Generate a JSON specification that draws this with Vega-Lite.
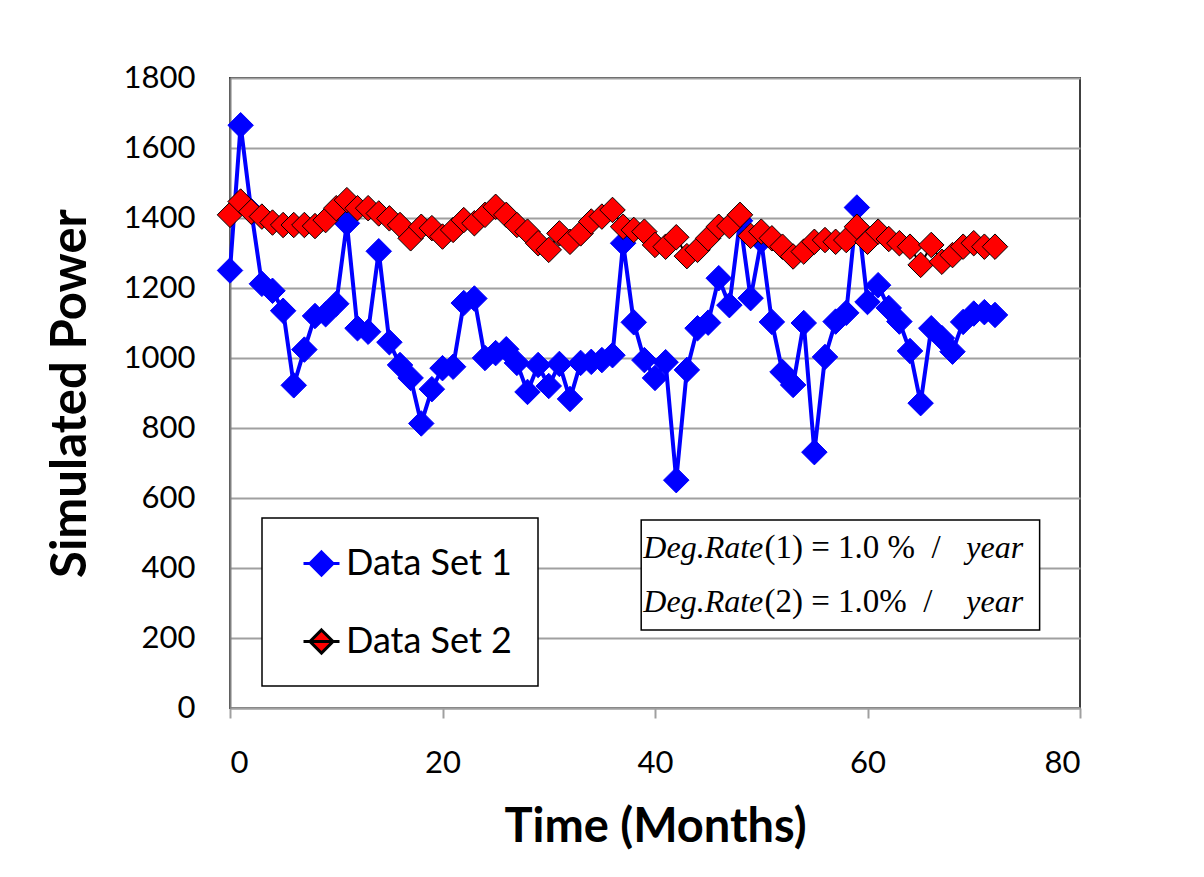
{
  "$schema": "https://vega.github.io/schema/vega-lite/v6.json",
  "width": 850,
  "height": 630,
  "autosize": {"type": "none"},
  "padding": {"left": 230, "top": 78, "right": 124, "bottom": 169},
  "background": "white",
  "config": {
    "view": {"stroke": "#404040", "strokeWidth": 2},
    "font": "Lato",
    "legend": {
      "orient": "none",
      "legendX": 32,
      "legendY": 440,
      "title": null,
      "labelFont": "Lato",
      "labelFontSize": 36,
      "labelColor": "black",
      "labelLimit": 500,
      "labelOffset": 5,
      "labelExpr": "datum.label + '\u00a0\u00a0'",
      "strokeColor": "black",
      "strokeWidth": 1.5,
      "fillColor": "white",
      "padding": 26,
      "symbolOffset": 14,
      "rowPadding": 40,
      "symbolSize": 1296,
      "symbolStrokeWidth": 3,
      "symbolType": "M-1,0L1,0M0,-0.64L0.64,0L0,0.64L-0.64,0Z"
    }
  },
  "datasets": {
    "power": [
      {"t":0,"p":1250,"s":"Data Set 1"},{"t":1,"p":1665,"s":"Data Set 1"},{"t":2,"p":1420,"s":"Data Set 1"},{"t":3,"p":1212,"s":"Data Set 1"},{"t":4,"p":1192,"s":"Data Set 1"},{"t":5,"p":1135,"s":"Data Set 1"},{"t":6,"p":922,"s":"Data Set 1"},{"t":7,"p":1024,"s":"Data Set 1"},{"t":8,"p":1120,"s":"Data Set 1"},{"t":9,"p":1125,"s":"Data Set 1"},
      {"t":10,"p":1155,"s":"Data Set 1"},{"t":11,"p":1385,"s":"Data Set 1"},{"t":12,"p":1085,"s":"Data Set 1"},{"t":13,"p":1075,"s":"Data Set 1"},{"t":14,"p":1305,"s":"Data Set 1"},{"t":15,"p":1045,"s":"Data Set 1"},{"t":16,"p":980,"s":"Data Set 1"},{"t":17,"p":943,"s":"Data Set 1"},{"t":18,"p":813,"s":"Data Set 1"},{"t":19,"p":911,"s":"Data Set 1"},
      {"t":20,"p":971,"s":"Data Set 1"},{"t":21,"p":975,"s":"Data Set 1"},{"t":22,"p":1157,"s":"Data Set 1"},{"t":23,"p":1170,"s":"Data Set 1"},{"t":24,"p":1000,"s":"Data Set 1"},{"t":25,"p":1014,"s":"Data Set 1"},{"t":26,"p":1025,"s":"Data Set 1"},{"t":27,"p":986,"s":"Data Set 1"},{"t":28,"p":903,"s":"Data Set 1"},{"t":29,"p":980,"s":"Data Set 1"},
      {"t":30,"p":920,"s":"Data Set 1"},{"t":31,"p":983,"s":"Data Set 1"},{"t":32,"p":883,"s":"Data Set 1"},{"t":33,"p":986,"s":"Data Set 1"},{"t":34,"p":989,"s":"Data Set 1"},{"t":35,"p":994,"s":"Data Set 1"},{"t":36,"p":1008,"s":"Data Set 1"},{"t":37,"p":1328,"s":"Data Set 1"},{"t":38,"p":1102,"s":"Data Set 1"},{"t":39,"p":994,"s":"Data Set 1"},
      {"t":40,"p":943,"s":"Data Set 1"},{"t":41,"p":988,"s":"Data Set 1"},{"t":42,"p":651,"s":"Data Set 1"},{"t":43,"p":966,"s":"Data Set 1"},{"t":44,"p":1085,"s":"Data Set 1"},{"t":45,"p":1101,"s":"Data Set 1"},{"t":46,"p":1228,"s":"Data Set 1"},{"t":47,"p":1151,"s":"Data Set 1"},{"t":48,"p":1392,"s":"Data Set 1"},{"t":49,"p":1171,"s":"Data Set 1"},
      {"t":50,"p":1335,"s":"Data Set 1"},{"t":51,"p":1103,"s":"Data Set 1"},{"t":52,"p":960,"s":"Data Set 1"},{"t":53,"p":923,"s":"Data Set 1"},{"t":54,"p":1100,"s":"Data Set 1"},{"t":55,"p":731,"s":"Data Set 1"},{"t":56,"p":1003,"s":"Data Set 1"},{"t":57,"p":1104,"s":"Data Set 1"},{"t":58,"p":1129,"s":"Data Set 1"},{"t":59,"p":1430,"s":"Data Set 1"},
      {"t":60,"p":1160,"s":"Data Set 1"},{"t":61,"p":1208,"s":"Data Set 1"},{"t":62,"p":1143,"s":"Data Set 1"},{"t":63,"p":1104,"s":"Data Set 1"},{"t":64,"p":1020,"s":"Data Set 1"},{"t":65,"p":871,"s":"Data Set 1"},{"t":66,"p":1085,"s":"Data Set 1"},{"t":67,"p":1057,"s":"Data Set 1"},{"t":68,"p":1018,"s":"Data Set 1"},{"t":69,"p":1103,"s":"Data Set 1"},
      {"t":70,"p":1127,"s":"Data Set 1"},{"t":71,"p":1131,"s":"Data Set 1"},{"t":72,"p":1123,"s":"Data Set 1"},
      {"t":0,"p":1409,"s":"Data Set 2"},{"t":1,"p":1447,"s":"Data Set 2"},{"t":2,"p":1418,"s":"Data Set 2"},{"t":3,"p":1404,"s":"Data Set 2"},{"t":4,"p":1387,"s":"Data Set 2"},{"t":5,"p":1380,"s":"Data Set 2"},{"t":6,"p":1380,"s":"Data Set 2"},{"t":7,"p":1380,"s":"Data Set 2"},{"t":8,"p":1377,"s":"Data Set 2"},{"t":9,"p":1394,"s":"Data Set 2"},
      {"t":10,"p":1428,"s":"Data Set 2"},{"t":11,"p":1451,"s":"Data Set 2"},{"t":12,"p":1428,"s":"Data Set 2"},{"t":13,"p":1428,"s":"Data Set 2"},{"t":14,"p":1413,"s":"Data Set 2"},{"t":15,"p":1399,"s":"Data Set 2"},{"t":16,"p":1380,"s":"Data Set 2"},{"t":17,"p":1342,"s":"Data Set 2"},{"t":18,"p":1375,"s":"Data Set 2"},{"t":19,"p":1371,"s":"Data Set 2"},
      {"t":20,"p":1347,"s":"Data Set 2"},{"t":21,"p":1366,"s":"Data Set 2"},{"t":22,"p":1394,"s":"Data Set 2"},{"t":23,"p":1385,"s":"Data Set 2"},{"t":24,"p":1409,"s":"Data Set 2"},{"t":25,"p":1432,"s":"Data Set 2"},{"t":26,"p":1409,"s":"Data Set 2"},{"t":27,"p":1380,"s":"Data Set 2"},{"t":28,"p":1361,"s":"Data Set 2"},{"t":29,"p":1328,"s":"Data Set 2"},
      {"t":30,"p":1309,"s":"Data Set 2"},{"t":31,"p":1356,"s":"Data Set 2"},{"t":32,"p":1332,"s":"Data Set 2"},{"t":33,"p":1356,"s":"Data Set 2"},{"t":34,"p":1390,"s":"Data Set 2"},{"t":35,"p":1404,"s":"Data Set 2"},{"t":36,"p":1423,"s":"Data Set 2"},{"t":37,"p":1375,"s":"Data Set 2"},{"t":38,"p":1366,"s":"Data Set 2"},{"t":39,"p":1361,"s":"Data Set 2"},
      {"t":40,"p":1323,"s":"Data Set 2"},{"t":41,"p":1318,"s":"Data Set 2"},{"t":42,"p":1345,"s":"Data Set 2"},{"t":43,"p":1291,"s":"Data Set 2"},{"t":44,"p":1309,"s":"Data Set 2"},{"t":45,"p":1342,"s":"Data Set 2"},{"t":46,"p":1375,"s":"Data Set 2"},{"t":47,"p":1377,"s":"Data Set 2"},{"t":48,"p":1409,"s":"Data Set 2"},{"t":49,"p":1349,"s":"Data Set 2"},
      {"t":50,"p":1361,"s":"Data Set 2"},{"t":51,"p":1342,"s":"Data Set 2"},{"t":52,"p":1318,"s":"Data Set 2"},{"t":53,"p":1290,"s":"Data Set 2"},{"t":54,"p":1304,"s":"Data Set 2"},{"t":55,"p":1332,"s":"Data Set 2"},{"t":56,"p":1337,"s":"Data Set 2"},{"t":57,"p":1332,"s":"Data Set 2"},{"t":58,"p":1337,"s":"Data Set 2"},{"t":59,"p":1375,"s":"Data Set 2"},
      {"t":60,"p":1332,"s":"Data Set 2"},{"t":61,"p":1361,"s":"Data Set 2"},{"t":62,"p":1340,"s":"Data Set 2"},{"t":63,"p":1328,"s":"Data Set 2"},{"t":64,"p":1318,"s":"Data Set 2"},{"t":65,"p":1266,"s":"Data Set 2"},{"t":66,"p":1323,"s":"Data Set 2"},{"t":67,"p":1275,"s":"Data Set 2"},{"t":68,"p":1294,"s":"Data Set 2"},{"t":69,"p":1318,"s":"Data Set 2"},
      {"t":70,"p":1328,"s":"Data Set 2"},{"t":71,"p":1318,"s":"Data Set 2"},{"t":72,"p":1318,"s":"Data Set 2"}
    ]
  },
  "layer": [
    {
      "data": {"name": "power"},
      "transform": [{"filter": "datum.s === 'Data Set 1'"}],
      "mark": {"type": "line", "strokeWidth": 4},
      "encoding": {
        "x": {"field": "t", "type": "quantitative", "scale": {"domain": [0, 80], "nice": false},
          "axis": {"values": [0, 20, 40, 60, 80], "grid": false, "title": "Time (Months)", "titleFont": "Lato", "titleFontSize": 47, "titleFontWeight": "bold", "titleColor": "black", "titlePadding": 26,
            "labelFont": "Lato", "labelFontSize": 31, "labelColor": "black", "labelPadding": 30, "tickSize": 10, "tickColor": "#a0a0a0", "tickWidth": 2, "domainColor": "#a0a0a0", "domainWidth": 2}},
        "y": {"field": "p", "type": "quantitative", "scale": {"domain": [0, 1800], "nice": false},
          "axis": {"values": [0, 200, 400, 600, 800, 1000, 1200, 1400, 1600, 1800], "format": "d", "grid": true, "gridColor": "#a0a0a0", "gridWidth": 2, "title": "Simulated Power", "titleFont": "Lato", "titleFontSize": 49, "titleFontWeight": "bold", "titleColor": "black", "titlePadding": 28,
            "labelFont": "Lato", "labelFontSize": 31, "labelColor": "black", "labelPadding": 35, "ticks": false, "domainColor": "#808080", "domainWidth": 2}},
        "stroke": {"field": "s", "type": "nominal", "scale": {"domain": ["Data Set 1", "Data Set 2"], "range": ["#0000FF", "#000000"]}}
      }
    },
    {
      "data": {"name": "power"},
      "transform": [{"filter": "datum.s === 'Data Set 2'"}],
      "mark": {"type": "line", "strokeWidth": 2},
      "encoding": {
        "x": {"field": "t", "type": "quantitative"},
        "y": {"field": "p", "type": "quantitative"},
        "stroke": {"field": "s", "type": "nominal"}
      }
    },
    {
      "data": {"name": "power"},
      "mark": {"type": "point", "shape": "diamond", "filled": true, "size": 650, "strokeWidth": 1, "opacity": 1},
      "encoding": {
        "x": {"field": "t", "type": "quantitative"},
        "y": {"field": "p", "type": "quantitative"},
        "fill": {"field": "s", "type": "nominal", "scale": {"domain": ["Data Set 1", "Data Set 2"], "range": ["#0000FF", "#FF0000"]}},
        "stroke": {"field": "s", "type": "nominal"}
      }
    },
    {
      "data": {"values": [{}]},
      "mark": {"type": "rect", "fill": "white", "stroke": "black", "strokeWidth": 1.5},
      "encoding": {
        "x": {"datum": 38.7, "type": "quantitative"},
        "x2": {"datum": 76.2},
        "y": {"datum": 537, "type": "quantitative"},
        "y2": {"datum": 223}
      }
    },
    {
      "data": {"values": [{}]},
      "mark": {"type": "text", "text": ["Deg.Rate", "Deg.Rate"], "font": "Liberation Serif", "fontStyle": "italic", "fontSize": 32, "align": "left", "baseline": "middle", "lineHeight": 54, "color": "black"},
      "encoding": {
        "x": {"datum": 38.9, "type": "quantitative"},
        "y": {"datum": 457, "type": "quantitative"}
      }
    },
    {
      "data": {"values": [{}]},
      "mark": {"type": "text", "text": ["(1)\u00a0=\u00a01.0\u00a0%\u00a0\u00a0/", "(2)\u00a0=\u00a01.0%\u00a0\u00a0/"], "font": "Liberation Serif", "fontSize": 33, "align": "left", "baseline": "middle", "lineHeight": 54, "color": "black"},
      "encoding": {
        "x": {"datum": 50.3, "type": "quantitative"},
        "y": {"datum": 457, "type": "quantitative"}
      }
    },
    {
      "data": {"values": [{}]},
      "mark": {"type": "text", "text": ["year", "year"], "font": "Liberation Serif", "fontStyle": "italic", "fontSize": 32, "align": "left", "baseline": "middle", "lineHeight": 54, "color": "black"},
      "encoding": {
        "x": {"datum": 69.3, "type": "quantitative"},
        "y": {"datum": 457, "type": "quantitative"}
      }
    }
  ]
}
